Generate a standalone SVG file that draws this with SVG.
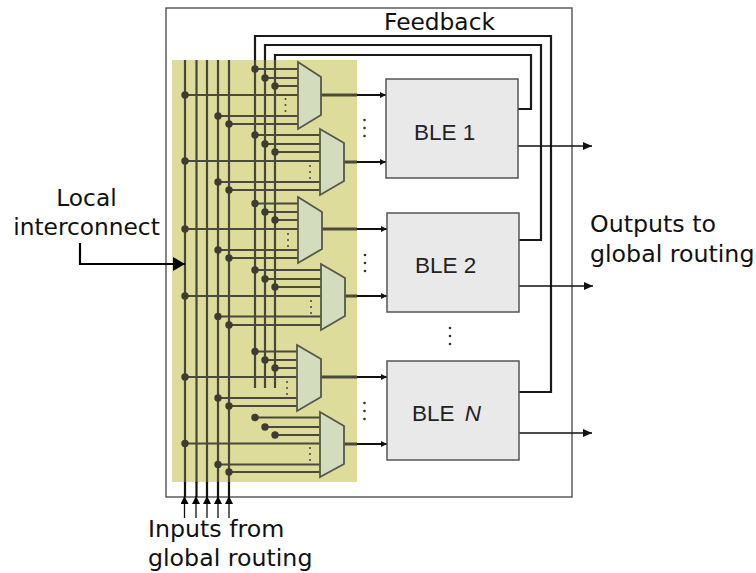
<svg xmlns="http://www.w3.org/2000/svg" width="756" height="573" viewBox="0 0 756 573">
<defs>
<marker id="ah" markerUnits="userSpaceOnUse" markerWidth="9" markerHeight="10" refX="9" refY="5" orient="auto"><path d="M0 1L9 5L0 9Z" fill="#111"/></marker>
<marker id="sm" markerUnits="userSpaceOnUse" markerWidth="7" markerHeight="8" refX="6" refY="4" orient="auto"><path d="M0 1L6 4L0 7Z" fill="#111"/></marker>
<marker id="big" markerUnits="userSpaceOnUse" markerWidth="12" markerHeight="14" refX="12" refY="7" orient="auto"><path d="M0 0L12 7L0 14Z" fill="#000"/></marker>
<marker id="up" markerUnits="userSpaceOnUse" markerWidth="8" markerHeight="9" refX="8" refY="4" orient="auto"><path d="M0 0L8 4L0 8Z" fill="#000"/></marker>
</defs>
<style>
.t{font-family:"DejaVu Sans",sans-serif;font-size:23.3px;fill:#111}
.l{font-size:23.700px}
.b{font-family:"Liberation Sans",Arial,sans-serif;font-size:22.5px;fill:#222}
.bus{fill:none;stroke:#47473a;stroke-width:2.200}
.fb{fill:none;stroke:#1a1a1a;stroke-width:2.200}
.in{fill:none;stroke:#4a4a3c;stroke-width:1.900}
.mux{fill:#d3dcbd;stroke:#55584a;stroke-width:1.800}
.ble{fill:#e9e9e9;stroke:#555;stroke-width:1.500}
.o{fill:none;stroke:#111;stroke-width:1.400}
.d{fill:#3c3c32}
.dt{fill:#444}
.k{fill:#333}
</style>
<rect x="166" y="8" width="406" height="489" fill="#fff" stroke="#444" stroke-width="1.300"/>
<rect x="172" y="60" width="185" height="422" fill="#dddc9b"/>

<g id="connectors">
<g id="buses" class="bus">
<path d="M185 60V483M196.500 60V483M207 60V483M218 60V483M229 60V483"/>
<path d="M255 60V388M265 60V388M275 60V388"/>
</g>
<path class="fb" d="M255 60V36H551V392H519"/>
<path class="fb" d="M265 60V45H541V240H519"/>
<path class="fb" d="M275 60V55H531V109H518"/>
<g class="in">
<path d="M255 69H298M265 78H298M275 86H298M185 95H298M218 116H298M229 124H298"/>
<path d="M255 135H320M265 144H320M275 152H320M185 161H320M218 182H320M229 190H320"/>
<path d="M255 203.500H298M265 212H298M275 220H298M185 229H298M218 250H298M229 258H298"/>
<path d="M255 270H321M265 279H321M275 287H321M185 296H321M218 316.500H321M229 325H321"/>
<path d="M255 351.500H297M265 360H297M275 368H297M185 377H297M218 398H297M229 406H297"/>
<path d="M255 417.500H320M265 427H320M275 435H320M185 443.500H320M218 464.500H320M229 472H320"/>
</g>
<g fill="none" stroke="#4a4a3c" stroke-width="3">
<path d="M321 95H357M344 162H357M322 229H357M345 296H357M321 377H357M344 444H357"/>
</g>
<g fill="none" stroke="#111" stroke-width="2">
<path d="M357 95H386" marker-end="url(#sm)"/>
<path d="M357 162H386" marker-end="url(#sm)"/>
<path d="M357 229H387" marker-end="url(#sm)"/>
<path d="M357 296H387" marker-end="url(#sm)"/>
<path d="M357 377H387" marker-end="url(#sm)"/>
<path d="M357 444H387" marker-end="url(#sm)"/>
</g>
<path class="o" d="M518 146H592" marker-end="url(#ah)"/>
<path class="o" d="M519 286H593" marker-end="url(#ah)"/>
<path class="o" d="M519 433H592" marker-end="url(#ah)"/>
<path fill="none" stroke="#000" stroke-width="2.200" d="M80 243V264H185" marker-end="url(#big)"/>
<g fill="none" stroke="#111" stroke-width="1.300">
<path d="M184.500 518V496" marker-end="url(#up)"/>
<path d="M196 518V496" marker-end="url(#up)"/>
<path d="M207 518V496" marker-end="url(#up)"/>
<path d="M218 518V496" marker-end="url(#up)"/>
<path d="M229 518V496" marker-end="url(#up)"/>
</g>
<g stroke="#111" stroke-width="2.200">
<path d="M185 482V497M196.500 482V497M207 482V497M218 482V497M229 482V497"/>
</g>
</g>

<g id="junctions" class="d">
<circle cx="255" cy="69" r="3.700"/><circle cx="265" cy="78" r="3.700"/><circle cx="275" cy="86" r="3.700"/><circle cx="185" cy="95" r="3.700"/><circle cx="218" cy="116" r="3.700"/><circle cx="229" cy="124" r="3.700"/>
<circle cx="255" cy="135" r="3.700"/><circle cx="265" cy="144" r="3.700"/><circle cx="275" cy="152" r="3.700"/><circle cx="185" cy="161" r="3.700"/><circle cx="218" cy="182" r="3.700"/><circle cx="229" cy="190" r="3.700"/>
<circle cx="255" cy="203.500" r="3.700"/><circle cx="265" cy="212" r="3.700"/><circle cx="275" cy="220" r="3.700"/><circle cx="185" cy="229" r="3.700"/><circle cx="218" cy="250" r="3.700"/><circle cx="229" cy="258" r="3.700"/>
<circle cx="255" cy="270" r="3.700"/><circle cx="265" cy="279" r="3.700"/><circle cx="275" cy="287" r="3.700"/><circle cx="185" cy="296" r="3.700"/><circle cx="218" cy="316.500" r="3.700"/><circle cx="229" cy="325" r="3.700"/>
<circle cx="255" cy="351.500" r="3.700"/><circle cx="265" cy="360" r="3.700"/><circle cx="275" cy="368" r="3.700"/><circle cx="185" cy="377" r="3.700"/><circle cx="218" cy="398" r="3.700"/><circle cx="229" cy="406" r="3.700"/>
<circle cx="255" cy="417.500" r="3.700"/><circle cx="265" cy="427" r="3.700"/><circle cx="275" cy="435" r="3.700"/><circle cx="185" cy="443.500" r="3.700"/><circle cx="218" cy="464.500" r="3.700"/><circle cx="229" cy="472" r="3.700"/>
</g>

<g id="mux1"><path class="mux" d="M298 62L321 77V115L298 129Z"/></g>
<g id="mux2"><path class="mux" d="M320 129L344 143V181L320 195Z"/></g>
<g id="mux3"><path class="mux" d="M298 197L322 212V249L298 263Z"/></g>
<g id="mux4"><path class="mux" d="M321 264L345 278V316L321 330Z"/></g>
<g id="mux5"><path class="mux" d="M297 345L321 359V397L297 411Z"/></g>
<g id="mux6"><path class="mux" d="M320 412L344 426V464L320 477Z"/></g>

<g id="mux-dots" class="dt">
<circle cx="285.500" cy="99" r="1"/><circle cx="285.500" cy="105" r="1"/><circle cx="285.500" cy="111" r="1"/>
<circle cx="310" cy="166" r="1"/><circle cx="310" cy="172" r="1"/><circle cx="310" cy="178" r="1"/>
<circle cx="288" cy="234" r="1"/><circle cx="288" cy="240" r="1"/><circle cx="288" cy="246" r="1"/>
<circle cx="311" cy="301" r="1"/><circle cx="311" cy="307" r="1"/><circle cx="311" cy="313" r="1"/>
<circle cx="287" cy="382" r="1"/><circle cx="287" cy="388" r="1"/><circle cx="287" cy="394" r="1"/>
<circle cx="310" cy="448" r="1"/><circle cx="310" cy="454" r="1"/><circle cx="310" cy="460" r="1"/>
</g>
<g id="ble-dots" class="k">
<circle cx="364.500" cy="120" r="1.300"/><circle cx="364.500" cy="128" r="1.300"/><circle cx="364.500" cy="136" r="1.300"/>
<circle cx="365" cy="255" r="1.300"/><circle cx="365" cy="263" r="1.300"/><circle cx="365" cy="271" r="1.300"/>
<circle cx="364.500" cy="403" r="1.300"/><circle cx="364.500" cy="411" r="1.300"/><circle cx="364.500" cy="419" r="1.300"/>
<circle cx="450" cy="328" r="1.300"/><circle cx="450" cy="336" r="1.300"/><circle cx="450" cy="344" r="1.300"/>
</g>

<g id="ble1"><rect class="ble" x="386" y="79" width="132" height="99"/><text class="b" x="414" y="140">BLE 1</text></g>
<g id="ble2"><rect class="ble" x="387" y="213" width="132" height="99"/><text class="b" x="415" y="273">BLE 2</text></g>
<g id="bleN"><rect class="ble" x="387" y="361" width="132" height="99"/><text class="b" x="412" y="421">BLE <tspan font-style="italic" dx="4">N</tspan></text></g>

<g id="labels">
<text class="t" x="384" y="30">Feedback</text>
<text class="t" x="86.500" y="206" text-anchor="middle">Local</text>
<text class="t" x="86.500" y="235" text-anchor="middle">interconnect</text>
<text class="t l" x="590" y="232">Outputs to</text>
<text class="t l" x="590" y="262">global routing</text>
<text class="t l" x="148" y="537">Inputs from</text>
<text class="t l" x="148" y="566">global routing</text>
</g>
</svg>
